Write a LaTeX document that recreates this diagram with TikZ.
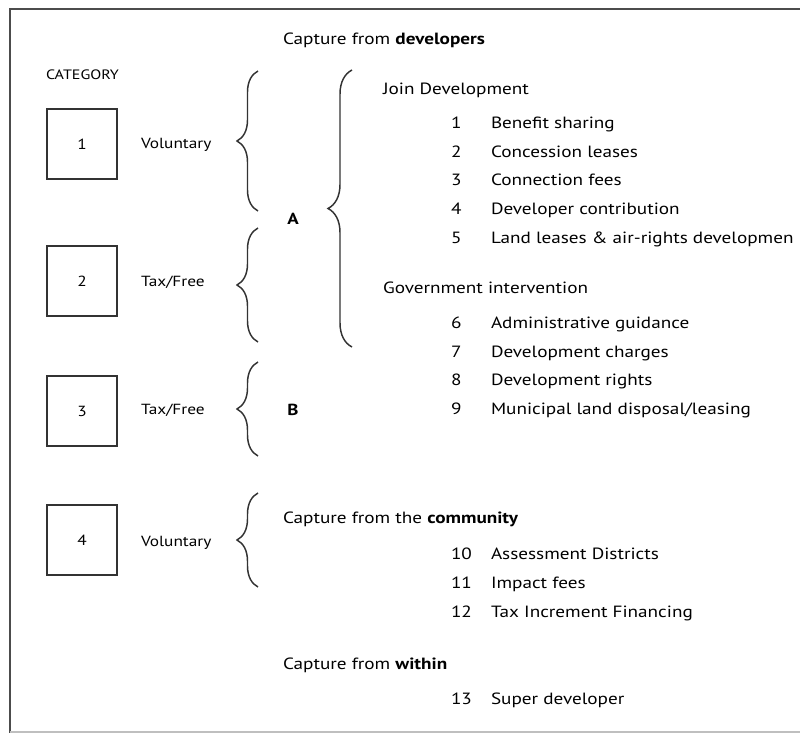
\documentclass[tikz,border=0pt]{standalone}
\usepackage{fontspec}
\setmainfont{PT Sans}[FakeStretch=1.18]
\usetikzlibrary{decorations.pathreplacing}
\begin{document}
\begin{tikzpicture}[x=0.75pt,y=-0.75pt,
  every node/.style={inner sep=0pt, outer sep=0pt, text=black},
  txt/.style={anchor=base west, font=\fontsize{12.2}{14}\selectfont},
  small/.style={anchor=base west, font=\fontsize{11}{13}\selectfont},
  caps/.style={anchor=base west, font=\fontsize{10.2}{12}\selectfont},
  catbox/.style={draw=black!80, line width=1.4pt, minimum size=52.5pt, font=\fontsize{11}{13}\selectfont},
  lbrace/.style={decorate, decoration={brace, amplitude=#1}, draw=black!80, line width=1.1pt},
  letter/.style={font=\bfseries\fontsize{12}{14}\selectfont}]
\useasboundingbox (0,0) rectangle (800,734);
% frame
\draw[black!70, line width=1.4pt] (800,9) -- (10,9) -- (10,733);
\draw[black!25, line width=1.2pt] (10,732) -- (800,732);

% headings
\node[txt] (hdev) at (283,45) {Capture from \textbf{developers}};
\node[caps] (cat) at (46,80) {CATEGORY};

% category boxes and labels
\node[catbox] (b1) at (82,144) {1};
\node[catbox] (b2) at (82,281) {2};
\node[catbox] (b3) at (82,411) {3};
\node[catbox] (b4) at (82,540) {4};
\node[small] (l1) at (141,149) {Voluntary};
\node[small] (l2) at (141,287) {Tax/Free};
\node[small] (l3) at (141,415) {Tax/Free};
\node[small] (l4) at (141,546) {Voluntary};

% braces
\coordinate (br1a) at (258,211); \coordinate (br1b) at (258,71);
\coordinate (br2a) at (258,342); \coordinate (br2b) at (258,228);
\coordinate (br3a) at (258,456); \coordinate (br3b) at (258,362);
\coordinate (br4a) at (258,587); \coordinate (br4b) at (258,493);
\coordinate (bigA) at (352,347); \coordinate (bigB) at (352,70);
\draw[lbrace=15.75pt] (br1a) -- (br1b);
\draw[lbrace=15.75pt] (br2a) -- (br2b);
\draw[lbrace=15.75pt] (br3a) -- (br3b);
\draw[lbrace=15.75pt] (br4a) -- (br4b);
\draw[lbrace=18pt] (bigA) -- (bigB);

\node[letter] (A) at (293,219) {A};
\node[letter] (B) at (293,410) {B};

% joint development
\node[txt] (jd) at (383,95) {Join Development};
\foreach \n/\t/\y in {1/Benefit sharing/129, 2/Concession leases/158, 3/Connection fees/186,
  4/Developer contribution/215, 5/Land leases \& air-rights developmen/244}{
  \node[txt] (n\n) at (451,\y) {\n};
  \node[txt] (t\n) at (491,\y) {\t};
}
% government intervention
\node[txt] (gi) at (383,294) {Government intervention};
\foreach \n/\t/\y in {6/Administrative guidance/329, 7/Development charges/358,
  8/Development rights/386, 9/{Municipal land disposal/leasing}/415}{
  \node[txt] (n\n) at (451,\y) {\n};
  \node[txt] (t\n) at (491,\y) {\t};
}
% community
\node[txt] (hcom) at (283,523) {Capture from the \textbf{community}};
\foreach \n/\t/\y in {10/Assessment Districts/559, 11/Impact fees/588, 12/Tax Increment Financing/617}{
  \node[txt] (n\n) at (451,\y) {\n};
  \node[txt] (t\n) at (491,\y) {\t};
}
% within
\node[txt] (hwit) at (283,669) {Capture from \textbf{within}};
\node[txt] (n13) at (451,704) {13};
\node[txt] (t13) at (491,704) {Super developer};
\end{tikzpicture}
\end{document}
